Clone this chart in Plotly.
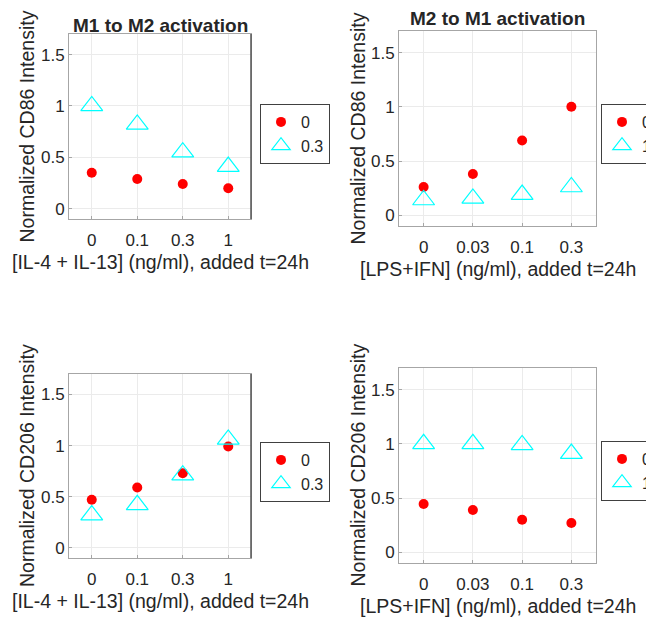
import plotly.graph_objects as go

W, H = 646, 619

# ---- data ----
il_doses = ["0", "0.1", "0.3", "1"]
lps_doses = ["0", "0.03", "0.1", "0.3"]

# Panel A: M1 to M2 activation, CD86
m1m2_cd86_0 = [0.35, 0.29, 0.24, 0.20]
m1m2_cd86_03 = [1.00, 0.82, 0.55, 0.41]
# Panel B: M2 to M1 activation, CD86
m2m1_cd86_0 = [0.26, 0.38, 0.69, 1.00]
m2m1_cd86_1 = [0.14, 0.155, 0.19, 0.26]
# Panel C: M1 to M2 activation, CD206
m1m2_cd206_0 = [0.47, 0.59, 0.73, 0.99]
m1m2_cd206_03 = [0.32, 0.42, 0.71, 1.06]
# Panel D: M2 to M1 activation, CD206
m2m1_cd206_0 = [0.445, 0.39, 0.30, 0.27]
m2m1_cd206_1 = [1.00, 1.00, 0.99, 0.91]

y_ticks = [0, 0.5, 1, 1.5]
y_tick_text = ["0", "0.5", "1", "1.5"]

TXT = "#262626"
FONT = "Liberation Sans, Arial, sans-serif"
RED = "#ff0000"
CYAN = "#00ffff"

# pixel boxes (left, right, top, bottom)
boxes = [
    (69, 251, 34, 219),
    (399, 596, 31, 226),
    (69, 251, 374, 558),
    (399, 596, 368, 563),
]
title_y = [25, 19, None, None]

panels = [
    (il_doses, m1m2_cd86_0, m1m2_cd86_03, "0.3", "Normalized CD86 Intensity",
     "[IL-4 + IL-13] (ng/ml), added t=24h", "M1 to M2 activation"),
    (lps_doses, m2m1_cd86_0, m2m1_cd86_1, "1", "Normalized CD86 Intensity",
     "[LPS+IFN] (ng/ml), added t=24h", "M2 to M1 activation"),
    (il_doses, m1m2_cd206_0, m1m2_cd206_03, "0.3", "Normalized CD206 Intensity",
     "[IL-4 + IL-13] (ng/ml), added t=24h", None),
    (lps_doses, m2m1_cd206_0, m2m1_cd206_1, "1", "Normalized CD206 Intensity",
     "[LPS+IFN] (ng/ml), added t=24h", None),
]

legend_pos = [(260, 104), (601, 104), (260, 442), (601, 441)]

fig = go.Figure()
layout = dict(
    width=W, height=H,
    margin=dict(l=0, r=0, t=0, b=0, autoexpand=False),
    paper_bgcolor="white", plot_bgcolor="white",
    font=dict(family=FONT, color=TXT, size=17),
    annotations=[], shapes=[],
)

for i, (cats, s0, s1, name1, ylab, xlab, title) in enumerate(panels):
    k = i + 1
    xa = "x" if k == 1 else f"x{k}"
    ya = "y" if k == 1 else f"y{k}"
    lg = "legend" if k == 1 else f"legend{k}"
    l, r, t, b = boxes[i]
    fig.add_trace(go.Scatter(
        x=cats, y=s0, mode="markers", name="0", xaxis=xa, yaxis=ya, legend=lg,
        marker=dict(symbol="circle", size=10, color=RED, line=dict(width=0)),
    ))
    fig.add_trace(go.Scatter(
        x=cats, y=s1, mode="markers", name=name1, xaxis=xa, yaxis=ya, legend=lg,
        marker=dict(symbol="triangle-up-open", size=19, color=CYAN, line=dict(width=1.2, color=CYAN)),
    ))
    axkey = "xaxis" if k == 1 else f"xaxis{k}"
    aykey = "yaxis" if k == 1 else f"yaxis{k}"
    layout[axkey] = dict(
        domain=[l / W, r / W], anchor=ya, type="category",
        categoryorder="array", categoryarray=cats,
        range=[-0.5, 3.5], showgrid=True, gridcolor="#ebebeb", gridwidth=1,
        showline=True, linecolor="#a6a6a6", linewidth=1, mirror=True,
        ticks="inside", ticklen=3, tickcolor="#a6a6a6",
        tickfont=dict(size=17, color=TXT), ticklabelstandoff=6,
        zeroline=False, fixedrange=True,
    )
    layout[aykey] = dict(
        domain=[1 - b / H, 1 - t / H], anchor=xa,
        range=[-0.1, 1.7], tickvals=y_ticks, ticktext=y_tick_text,
        showgrid=True, gridcolor="#ebebeb", gridwidth=1,
        showline=True, linecolor="#a6a6a6", linewidth=1, mirror=True,
        ticks="inside", ticklen=3, tickcolor="#a6a6a6",
        tickfont=dict(size=17, color=TXT), zeroline=False, fixedrange=True,
    )
    lx, ly = legend_pos[i]
    layout[lg] = dict(
        x=lx / W, y=1 - ly / H, xanchor="left", yanchor="top",
        bordercolor="#404040", borderwidth=1, bgcolor="white",
        font=dict(size=16, color=TXT), tracegroupgap=0, itemwidth=30,
    )
    cx = (l + r) / 2
    layout["annotations"].append(dict(
        text=xlab, x=cx / W, y=1 - (b + 43) / H, xref="paper", yref="paper",
        xanchor="center", yanchor="middle", showarrow=False,
        font=dict(size=19.5, color=TXT),
    ))
    layout["annotations"].append(dict(
        text=ylab, x=(l - 42) / W, y=1 - ((t + b) / 2) / H, xref="paper", yref="paper",
        xanchor="center", yanchor="middle", showarrow=False, textangle=-90,
        font=dict(size=19.5, color=TXT),
    ))
    if title:
        layout["annotations"].append(dict(
            text=f"<b>{title}</b>", x=cx / W, y=1 - title_y[i] / H, xref="paper", yref="paper",
            xanchor="center", yanchor="middle", showarrow=False,
            font=dict(size=19, color=TXT),
        ))
    if k in (1, 3):
        layout["shapes"].append(dict(
            type="line", xref="paper", yref="paper",
            x0=r / W, x1=r / W, y0=1 - b / H, y1=1 - t / H,
            line=dict(color="#555555", width=1.5),
        ))

fig.update_layout(**layout)
fig.write_html("out.html")
